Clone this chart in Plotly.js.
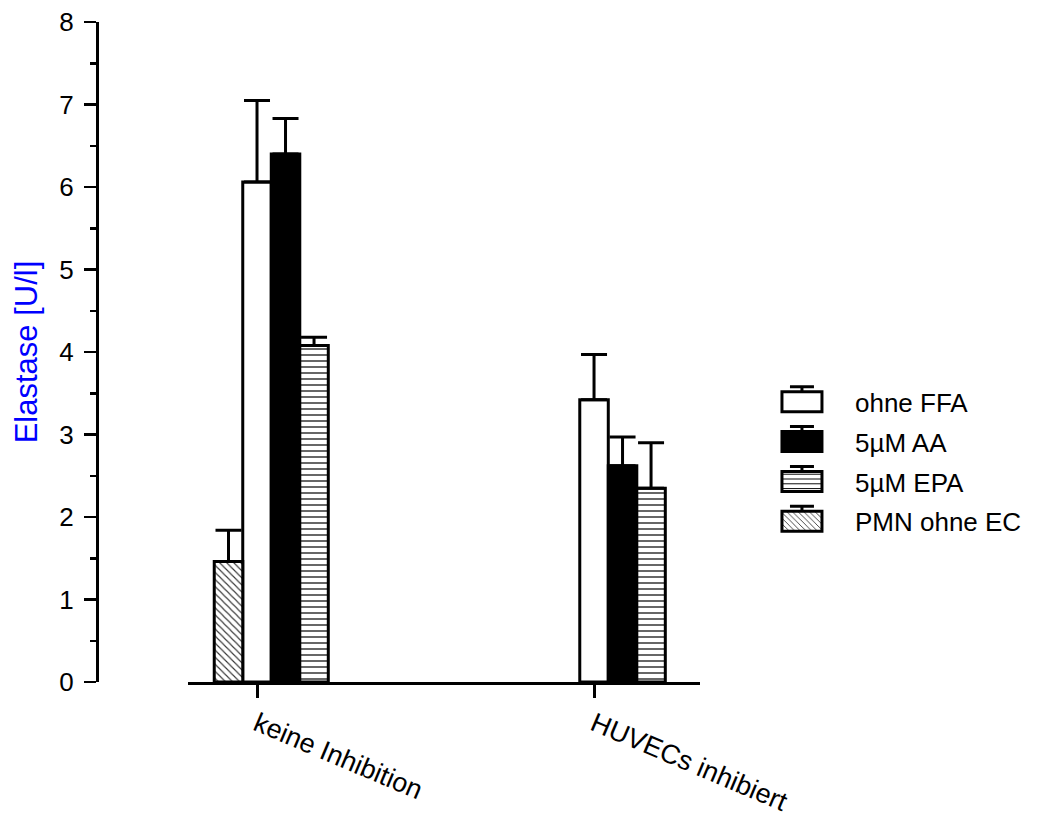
<!DOCTYPE html>
<html>
<head>
<meta charset="utf-8">
<script src="https://cdn.plot.ly/plotly-3.0.1.min.js"></script>
<style>
  html, body { margin: 0; padding: 0; background: #fff; }
  #chart { width: 1052px; height: 818px; }
</style>
</head>
<body>
<div id="chart"></div>
<script>
// Elastase release per condition (mean and upper SD)
const categories = ["keine Inhibition", "HUVECs inhibiert"];

const seriesNames = ["ohne FFA", "5µM AA", "5µM EPA", "PMN ohne EC"];

const ohneFFA     = [6.06, 3.42];
const ohneFFA_sd  = [0.99, 0.55];
const aa5         = [6.40, 2.62];
const aa5_sd      = [0.43, 0.35];
const epa5        = [4.08, 2.35];
const epa5_sd     = [0.10, 0.55];
const pmnOhneEC    = [1.46, null];
const pmnOhneEC_sd = [0.38, null];

const yTickVals = [0, 1, 2, 3, 4, 5, 6, 7, 8];

// bar geometry in category units
const W = 0.0846;
const lineW = 3;
const font = "Liberation Sans, Arial, sans-serif";

function barTrace(name, y, sd, offset, fill, pattern) {
  const t = {
    type: "bar",
    name: name,
    legendgroup: name,
    x: categories,
    y: y,
    width: W,
    offset: offset,
    marker: {
      color: fill,
      line: { color: "#000", width: lineW }
    },
    error_y: {
      type: "data",
      symmetric: false,
      array: sd,
      arrayminus: sd.map(() => 0),
      color: "#000",
      thickness: 3,
      width: 13
    },
    hoverinfo: "skip"
  };
  if (pattern) {
    t.marker.pattern = pattern;
  }
  return t;
}

const traces = [
  barTrace(seriesNames[0], ohneFFA, ohneFFA_sd, -W / 2, "#fff"),
  barTrace(seriesNames[1], aa5, aa5_sd, W / 2, "#000"),
  barTrace(seriesNames[2], epa5, epa5_sd, 1.5 * W, "#fff",
    { shape: "-", size: 6, solidity: 0.2, fgcolor: "#000", bgcolor: "#fff", fillmode: "replace" }),
  barTrace(seriesNames[3], pmnOhneEC, pmnOhneEC_sd, -1.5 * W, "#fff",
    { shape: "\\", size: 5, solidity: 0.22, fgcolor: "#333", bgcolor: "#fff", fillmode: "replace" })
];

const layout = {
  width: 1052,
  height: 818,
  margin: { l: 97, r: 52, t: 22, b: 136 },
  paper_bgcolor: "#fff",
  plot_bgcolor: "#fff",
  barmode: "overlay",
  font: { family: font, size: 24, color: "#000" },
  showlegend: true,
  legend: {
    x: 0.722,
    xanchor: "left",
    y: 0.46,
    yanchor: "top",
    font: { family: font, size: 26, color: "#000" },
    itemwidth: 96,
    tracegroupgap: 3,
    traceorder: "grouped",
    bgcolor: "rgba(0,0,0,0)"
  },
  xaxis: {
    type: "category",
    domain: [0.1008, 0.6678],
    range: [-0.2047, 1.3145],
    anchor: "y",
    showline: true,
    linecolor: "#000",
    linewidth: 3,
    showgrid: false,
    zeroline: false,
    ticks: "outside",
    ticklen: 13,
    tickwidth: 3,
    tickcolor: "#000",
    tickangle: 23,
    ticklabelstandoff: 0,
    tickfont: { family: font, size: 27, color: "#000" }
  },
  yaxis: {
    range: [0, 8],
    anchor: "free",
    position: 0,
    showline: true,
    linecolor: "#000",
    linewidth: 3,
    showgrid: false,
    zeroline: false,
    ticks: "outside",
    ticklen: 12,
    tickwidth: 2.5,
    tickcolor: "#000",
    tickmode: "array",
    tickvals: yTickVals,
    ticktext: yTickVals.map(String),
    ticklabelstandoff: 5,
    tickfont: { family: font, size: 26, color: "#000" },
    minor: { dtick: 0.5, ticklen: 6, tickwidth: 2.5, tickcolor: "#000", ticks: "outside" },
    title: {
      text: "Elastase [U/l]",
      font: { family: font, size: 31, color: "#0000ff" },
      standoff: 11
    }
  }
};

// wider legend keys, each with a small error-bar cap on top
const legendKey = "M20,10H-20V-10H20Z M0,-10V-15 M-12,-15H12";

Plotly.newPlot("chart", traces, layout, { displayModeBar: false, staticPlot: true })
  .then(gd => {
    gd.querySelectorAll(".legend .legendpoints path").forEach(p => {
      p.setAttribute("d", legendKey);
      p.style.strokeWidth = "3px";
      p.style.stroke = "#000";
    });
  });
</script>
</body>
</html>
